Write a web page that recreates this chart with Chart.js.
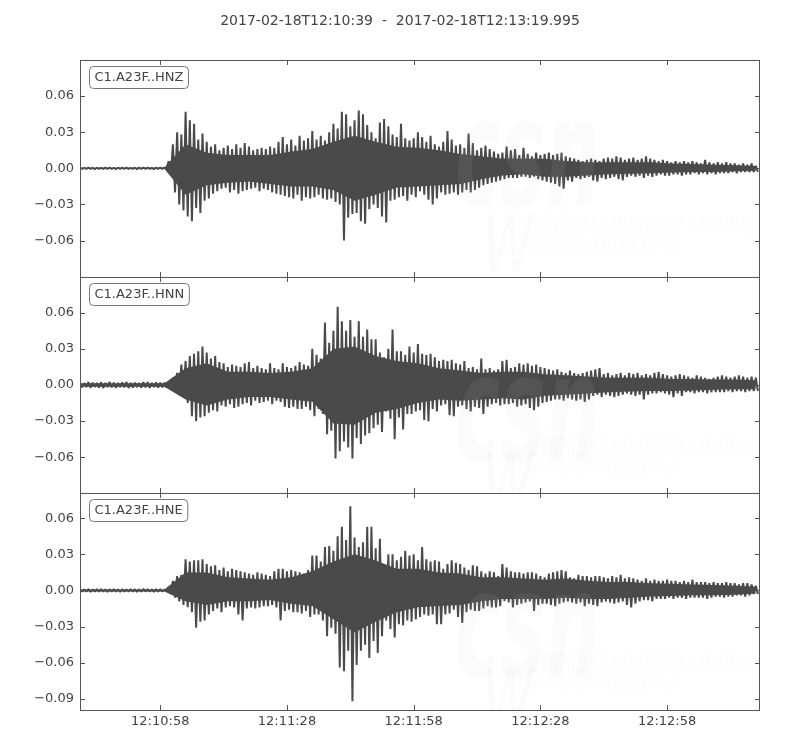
<!DOCTYPE html>
<html>
<head>
<meta charset="utf-8">
<script src="https://cdn.jsdelivr.net/npm/chart.js@4.4.1/dist/chart.umd.min.js"></script>
<style>
  html, body { margin: 0; background: #fff; }
  canvas { display: block; }
</style>
</head>
<body>
<canvas id="seis" width="800" height="750"></canvas>
<script>
// time window of the record
const startTime = "2017-02-18T12:10:39";
const endTime = "2017-02-18T12:13:19.995";
const durationSec = 160.995;
const xTickSeconds = [19, 49, 79, 109, 139];

const traceNames = ["C1.A23F..HNZ", "C1.A23F..HNN", "C1.A23F..HNE"];
const yLimits = [[-0.09, 0.09], [-0.09, 0.09], [-0.0993, 0.0807]];
const yTicks = [
  [-0.06, -0.03, 0, 0.03, 0.06],
  [-0.06, -0.03, 0, 0.03, 0.06],
  [-0.09, -0.06, -0.03, 0, 0.03, 0.06],
];

// peak amplitude per 1 s bin (units of 0.001)
const hnzTop = [
  0.5, 0.4, 0.6, 0.5, 0.5, 0.4, 0.6, 0.5, 0.4, 0.5, 0.6, 0.5, 0.4, 0.5, 0.6, 0.5, 0.5, 0.4, 0.6, 0.5, 0.7,
  6, 20, 30, 28, 47, 40, 37, 24, 29, 22,
  18, 20, 15, 17, 19, 16, 20, 17, 21, 18,
  15, 16, 17, 16, 18, 17, 22, 26, 20, 24,
  19, 27, 23, 25, 31, 24, 27, 23, 30, 37,
  33, 47, 45, 35, 40, 48, 45, 36, 30, 25,
  38, 41, 35, 28, 26, 37, 25, 23, 25, 30,
  26, 22, 27, 20, 18, 22, 31, 24, 19, 20,
  17, 29, 21, 15, 17, 19, 16, 14, 12, 13,
  18, 15, 16, 11, 17, 12, 10, 13, 11, 12,
  13, 11, 12, 13, 10, 9, 8, 7, 6, 7,
  8, 7, 6, 8, 9, 8, 10, 9, 7, 8,
  9, 7, 8, 10, 8, 7, 6, 7, 6, 5,
  6, 5, 6, 5, 6, 5, 4, 7, 5, 4,
  5, 4, 5, 4, 4, 3, 4, 3, 4, 2,
];
const hnzBottom = [
  -0.5, -0.5, -0.4, -0.6, -0.5, -0.5, -0.4, -0.5, -0.6, -0.5, -0.4, -0.5, -0.5, -0.6, -0.4, -0.5, -0.5, -0.6, -0.5, -0.4, -0.7,
  -5, -20, -30, -35, -40, -44, -33, -37, -27, -25,
  -21, -19, -17, -16, -20, -18, -21, -19, -18, -17,
  -16, -19, -17, -18, -20, -21, -22, -23, -24, -25,
  -22, -27, -24, -25, -24, -22, -25, -26, -25, -28,
  -30, -60, -41, -38, -37, -44, -46, -34, -30, -33,
  -40, -45, -27, -26, -24, -23, -27, -22, -24, -19,
  -22, -26, -30, -25, -20, -22, -21, -20, -22, -20,
  -18, -20, -18, -16, -14, -13, -12, -11, -10, -9,
  -8, -8, -8, -7, -7, -8, -7, -9, -10, -11,
  -12, -13, -15, -17, -10, -11, -8, -9, -8, -7,
  -10, -11, -8, -9, -8, -7, -9, -10, -7, -6,
  -7, -6, -8, -6, -7, -6, -5, -6, -6, -5,
  -5, -6, -5, -5, -4, -5, -4, -5, -4, -5,
  -4, -4, -4, -3, -4, -3, -3, -3, -3, -3,
];
const hnnTop = [
  2, 1.6, 2.5, 2, 1.6, 2.3, 1.8, 2.5, 1.9, 1.6, 2.2, 2.5, 1.8, 2, 1.6, 2.3, 2.5, 1.8, 2.1, 1.9, 2,
  3, 6, 10, 17, 20, 24, 26, 28, 32, 27,
  22, 24, 19, 18, 15, 17, 16, 15, 18, 19,
  14, 16, 14, 13, 18, 14, 13, 18, 15, 14,
  16, 19, 17, 16, 30, 25, 22, 52, 35, 45,
  65, 53, 45, 54, 40, 53, 40, 46, 38, 38,
  27, 23, 30, 46, 28, 28, 25, 32, 27, 34,
  26, 25, 26, 23, 20, 21, 20, 21, 18, 17,
  20, 14, 15, 13, 22, 13, 14, 12, 13, 20,
  21, 14, 15, 18, 17, 18, 16, 17, 15, 14,
  13, 12, 13, 11, 10, 12, 10, 9, 10, 11,
  12, 13, 14, 9, 10, 8, 9, 10, 8, 10,
  9, 10, 8, 9, 8, 10, 11, 9, 8, 7,
  8, 9, 8, 7, 6, 8, 7, 6, 5, 6,
  7, 8, 7, 6, 7, 8, 7, 6, 7, 6,
];
const hnnBottom = [
  -2, -1.7, -2.3, -1.6, -2.1, -2.5, -1.8, -2, -2.3, -1.7, -1.9, -2.5, -2.1, -1.7, -2.2, -2, -2.4, -1.8, -2.1, -1.9, -2.1,
  -3, -5, -7, -10, -15, -26, -30, -27, -26, -23,
  -21, -22, -17, -18, -16, -19, -18, -16, -15, -17,
  -13, -15, -14, -13, -16, -13, -14, -18, -19, -18,
  -20, -20, -18, -21, -26, -20, -24, -41, -38, -61,
  -55, -47, -52, -61, -44, -49, -42, -40, -36, -33,
  -39, -22, -28, -45, -27, -37, -24, -24, -22, -21,
  -29, -30, -20, -22, -17, -16, -25, -26, -18, -17,
  -20, -22, -18, -19, -24, -18, -16, -15, -17, -16,
  -16, -15, -18, -17, -16, -19, -21, -18, -15, -14,
  -13, -12, -12, -13, -11, -12, -13, -12, -14, -12,
  -9, -8, -10, -8, -9, -10, -9, -8, -7, -8,
  -9, -8, -12, -8, -7, -7, -6, -7, -8, -10,
  -7, -9, -6, -6, -7, -6, -6, -7, -6, -6,
  -6, -6, -5, -6, -5, -5, -6, -5, -5, -5,
];
const hneTop = [
  1.0, 0.8, 1.1, 0.9, 1.0, 1.2, 0.8, 1.0, 1.1, 0.9, 1.0, 0.8, 1.1, 1.0, 0.9, 1.2, 1.0, 0.8, 1.1, 1.0, 0.9,
  3, 8, 12, 13, 26, 24, 25, 25, 26, 22,
  20, 21, 17, 19, 16, 18, 17, 16, 15, 14,
  13, 15, 14, 13, 12, 16, 18, 18, 16, 17,
  16, 15, 14, 17, 29, 29, 24, 36, 37, 33,
  45, 53, 42, 70, 44, 36, 40, 53, 53, 35,
  43, 22, 30, 30, 25, 28, 33, 29, 30, 25,
  36, 26, 24, 25, 24, 18, 22, 25, 23, 22,
  19, 17, 21, 20, 16, 14, 16, 15, 12, 22,
  19, 16, 15, 15, 14, 15, 15, 14, 12, 11,
  14, 15, 16, 17, 16, 11, 10, 13, 12, 12,
  11, 12, 12, 11, 10, 12, 11, 13, 10, 11,
  10, 9, 8, 10, 8, 9, 8, 8, 9, 8,
  8, 7, 8, 7, 9, 7, 7, 7, 6, 7,
  6, 6, 7, 6, 6, 5, 6, 6, 5, 4,
];
const hneBottom = [
  -1.0, -0.9, -1.1, -0.8, -1.0, -1.0, -1.2, -0.9, -1.0, -1.1, -0.8, -1.0, -0.9, -1.1, -1.0, -0.8, -1.0, -1.1, -0.9, -1.0, -1.0,
  -3, -6, -9, -12, -14, -18, -31, -26, -25, -20,
  -17, -15, -18, -14, -13, -14, -20, -25, -15, -14,
  -15, -14, -13, -13, -12, -14, -25, -17, -16, -18,
  -18, -19, -17, -22, -20, -20, -25, -38, -31, -36,
  -64, -67, -50, -92, -62, -50, -45, -56, -42, -52,
  -38, -25, -32, -39, -28, -29, -25, -26, -24, -22,
  -20, -21, -20, -28, -28, -20, -19, -16, -22, -27,
  -18, -16, -17, -17, -15, -13, -14, -14, -13, -9,
  -10, -14, -12, -11, -10, -9, -17, -12, -11, -11,
  -12, -13, -11, -10, -9, -10, -11, -10, -13, -11,
  -12, -13, -10, -9, -10, -11, -10, -9, -12, -14,
  -11, -9, -8, -8, -9, -7, -7, -7, -6, -7,
  -6, -6, -7, -6, -6, -6, -6, -7, -6, -5,
  -5, -6, -5, -5, -4, -4, -5, -4, -3, -3,
];

// solid body of each trace, every 5 s (0, 5, ... 160), same units
const coreSeconds = [0, 5, 10, 15, 20, 25, 30, 35, 40, 45, 50, 55, 60, 65, 70, 75, 80,
  85, 90, 95, 100, 105, 110, 115, 120, 125, 130, 135, 140, 145, 150, 155, 160];
const hnzCoreTop = [0.5, 0.5, 0.5, 0.5, 0.6, 20, 13, 11, 11, 11, 14, 16, 22, 27, 22, 18, 17,
  15, 12, 10, 8, 8, 8, 6, 5, 5, 5, 5, 4, 3.5, 3, 2.5, 2];
const hnzCoreBottom = [-0.5, -0.5, -0.5, -0.5, -0.6, -22, -14, -12, -11, -13, -15, -15, -18, -27, -22, -16, -15,
  -14, -13, -9, -6, -5, -7, -7, -6, -5, -4.5, -4, -3.5, -3, -3, -2.5, -2];
const hnnCoreTop = [1.5, 1.5, 1.5, 1.5, 1.5, 14, 18, 11, 11, 10, 11, 14, 30, 32, 24, 20, 18,
  14, 12, 10, 11, 11, 9, 8, 7, 6, 6, 6, 5, 5, 4.5, 4.5, 4];
const hnnCoreBottom = [-1.5, -1.5, -1.5, -1.5, -1.5, -12, -17, -12, -10, -10, -12, -14, -32, -33, -23, -20, -15,
  -12, -13, -12, -11, -12, -9, -8, -7, -6, -5.5, -5, -5, -4.5, -4, -3.5, -3.5];
const hneCoreTop = [0.8, 0.8, 0.8, 0.8, 0.8, 15, 15, 11, 10, 9, 11, 16, 24, 30, 25, 18, 18,
  15, 14, 11, 11, 10, 9, 10, 8, 7, 7, 6, 5.5, 5, 4.5, 4, 3];
const hneCoreBottom = [-0.8, -0.8, -0.8, -0.8, -0.8, -9, -12, -9, -9, -8, -11, -13, -24, -35, -26, -18, -14,
  -13, -12, -9, -7, -7, -7, -6, -7, -7, -6, -5, -4.5, -4, -4, -3.5, -2.5];

const envelopeUnit = 0.001;

const traceColor = "#4a4a4a";
const textColor = "#444";
const frameColor = "#555";
const fontFamily = "'DejaVu Sans', sans-serif";

const peaks = [[hnzTop, hnzBottom], [hnnTop, hnnBottom], [hneTop, hneBottom]];
const cores = [[hnzCoreTop, hnzCoreBottom], [hnnCoreTop, hnnCoreBottom], [hneCoreTop, hneCoreBottom]];
const yIds = ["yZ", "yN", "yE"];

// max of each 1 s bin at its start, min half a second later
function zigzagPoints(tops, bottoms) {
  const pts = [];
  tops.forEach((v, i) => {
    pts.push({ x: i, y: v * envelopeUnit });
    pts.push({ x: i + 0.5, y: bottoms[i] * envelopeUnit });
  });
  return pts;
}
function corePoints(values) {
  return values.map((v, i) => ({ x: coreSeconds[i], y: v * envelopeUnit }));
}

function clockLabel(sec) {
  const d = new Date(Date.UTC(2017, 1, 18, 12, 10, 39) + sec * 1000);
  return d.toISOString().substr(11, 8);
}

function amplitudeLabel(v) {
  return Math.abs(v) < 1e-9 ? "0.00" : v.toFixed(2).replace("-", "\u2212");
}

function fitText(ctx, text, x, y, width, font) {
  ctx.font = font;
  const w = ctx.measureText(text).width;
  ctx.save();
  ctx.translate(x, y);
  ctx.scale(width / w, 1);
  ctx.fillText(text, 0, 0);
  ctx.restore();
}

const scales = {
  x: {
    type: "linear",
    min: 0,
    max: durationSec,
    grid: { display: false, drawTicks: false },
    border: { display: false },
    afterBuildTicks: (s) => { s.ticks = xTickSeconds.map((v) => ({ value: v })); },
    afterFit: (s) => { s.height = 40; },
    ticks: {
      padding: 4,
      maxRotation: 0,
      autoSkip: false,
      color: textColor,
      font: { family: fontFamily, size: 13 },
      callback: (v) => clockLabel(v),
    },
  },
};
yIds.forEach((id, k) => {
  scales[id] = {
    type: "linear",
    position: "left",
    stack: "traces",
    stackWeight: 1,
    weight: 3 - k,
    min: yLimits[k][0],
    max: yLimits[k][1],
    grid: { display: false, drawTicks: false },
    border: { display: false },
    afterBuildTicks: (s) => { s.ticks = yTicks[k].map((v) => ({ value: v })); },
    afterFit: (s) => { s.width = 80; },
    ticks: {
      padding: 6,
      autoSkip: false,
      color: textColor,
      font: { family: fontFamily, size: 13 },
      callback: (v) => amplitudeLabel(v),
    },
  };
});

const datasets = [];
traceNames.forEach((name, k) => {
  const common = {
    yAxisID: yIds[k],
    borderColor: traceColor,
    backgroundColor: traceColor,
    borderJoinStyle: "bevel",
    pointRadius: 0,
    tension: 0,
  };
  datasets.push({ ...common, label: name, data: zigzagPoints(peaks[k][0], peaks[k][1]), borderWidth: 2, fill: false });
  datasets.push({ ...common, label: name + " body+", data: corePoints(cores[k][0]), borderWidth: 0, fill: false });
  datasets.push({ ...common, label: name + " body-", data: corePoints(cores[k][1]), borderWidth: 0, fill: "-1" });
});

const decorPlugin = {
  id: "decor",
  afterDatasetsDraw(chart) {
    const { ctx, chartArea: a, scales: sc } = chart;
    const xs = sc.x;
    ctx.save();
    yIds.forEach((id, k) => {
      const s = sc[id];
      const top = Math.round(s.top);
      const bottom = Math.round(s.bottom);

      // faint CSN watermark
      ctx.save();
      ctx.beginPath();
      ctx.rect(a.left, top, a.right - a.left, bottom - top);
      ctx.clip();
      ctx.fillStyle = "rgba(200,200,200,0.08)";
      fitText(ctx, "csn", 455, top + 145, 145, "italic bold 150px " + fontFamily);
      fitText(ctx, "W", 483, top + 212, 50, "italic 80px " + fontFamily);
      fitText(ctx, "CENTRO SISMOLÓGICO NACIONAL", 532, top + 173, 223, "italic 24px " + fontFamily);
      fitText(ctx, "UNIVERSIDAD DE CHILE", 528, top + 192, 152, "italic 20px " + fontFamily);
      ctx.restore();

      // frame and inward ticks
      ctx.strokeStyle = frameColor;
      ctx.lineWidth = 1;
      ctx.strokeRect(a.left + 0.5, top + 0.5, a.right - a.left - 1, bottom - top);
      ctx.beginPath();
      yTicks[k].forEach((v) => {
        const py = Math.round(s.getPixelForValue(v)) + 0.5;
        ctx.moveTo(a.left, py); ctx.lineTo(a.left + 5, py);
        ctx.moveTo(a.right, py); ctx.lineTo(a.right - 5, py);
      });
      xTickSeconds.forEach((v) => {
        const px = Math.round(xs.getPixelForValue(v)) + 0.5;
        ctx.moveTo(px, top); ctx.lineTo(px, top + 5);
        ctx.moveTo(px, bottom); ctx.lineTo(px, bottom - 5);
      });
      ctx.stroke();

      // trace label box
      ctx.font = "13px " + fontFamily;
      const tw = ctx.measureText(traceNames[k]).width;
      ctx.beginPath();
      ctx.roundRect(89.5, top + 6.5, tw + 10, 22, 4);
      ctx.fillStyle = "#fff";
      ctx.fill();
      ctx.strokeStyle = "#777";
      ctx.stroke();
      ctx.fillStyle = textColor;
      ctx.textBaseline = "middle";
      ctx.textAlign = "left";
      ctx.fillText(traceNames[k], 94.5, top + 17.5);
    });

    // title
    ctx.font = "14px " + fontFamily;
    ctx.fillStyle = textColor;
    ctx.textAlign = "center";
    ctx.textBaseline = "middle";
    ctx.fillText(startTime + "  -  " + endTime, 400, 21);
    ctx.restore();
  },
};

new Chart(document.getElementById("seis"), {
  type: "line",
  data: { datasets: datasets },
  options: {
    responsive: false,
    animation: false,
    layout: { padding: { top: 60, right: 40, left: 0, bottom: 0 } },
    plugins: {
      legend: { display: false },
      tooltip: { enabled: false },
      title: { display: false },
      filler: { propagate: false },
    },
    scales: scales,
  },
  plugins: [decorPlugin],
});
</script>
</body>
</html>
